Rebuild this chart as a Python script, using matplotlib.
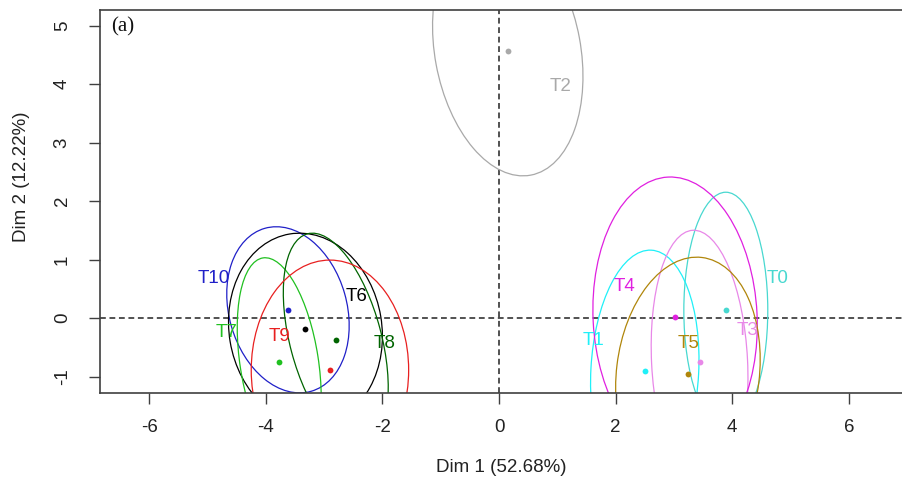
import numpy as np
import matplotlib
matplotlib.use("Agg")
import matplotlib.pyplot as plt
from matplotlib.patches import Ellipse

plt.rcParams['font.family'] = ['Liberation Sans', 'DejaVu Sans']

# ---- data ----
groups = ["T0", "T1", "T10", "T2", "T3", "T4", "T5", "T6", "T7", "T8", "T9"]
colors = ["#48D8D0", "#20F0F8", "#2020C8", "#A9A9A9", "#E888E8", "#E020E0",
          "#B0860B", "#000000", "#20C020", "#006400", "#E82020"]
# group centres (Dim1, Dim2)
center_x = [3.89, 2.50, -3.62, 0.15, 3.44, 3.02, 3.24, -3.32, -3.77, -2.80, -2.90]
center_y = [0.13, -0.91, 0.14, 4.56, -0.75, 0.01, -0.95, -0.19, -0.76, -0.38, -0.89]
# ellipse half-extent along Dim1, half-extent along Dim2, and x-shift of its topmost point
ell_halfwidth = [0.72, 0.93, 1.05, 1.29, 0.83, 1.41, 1.24, 1.32, 0.72, 0.90, 1.35]
ell_halfheight = [2.02, 2.07, 1.42, 2.13, 2.25, 2.40, 1.99, 1.64, 1.79, 1.83, 1.88]
ell_topshift = [0.0, 0.09, -0.20, -0.26, -0.10, -0.08, 0.15, -0.10, -0.24, -0.40, 0.0]
# label positions
label_x = [4.77, 1.62, -4.90, 1.05, 4.27, 2.15, 3.25, -2.45, -4.67, -1.96, -3.77]
label_y = [0.68, -0.38, 0.68, 3.95, -0.22, 0.53, -0.43, 0.36, -0.24, -0.43, -0.32]

xticks = [-6, -4, -2, 0, 2, 4, 6]
yticks = [-1, 0, 1, 2, 3, 4, 5]
xlabel = "Dim 1 (52.68%)"
ylabel = "Dim 2 (12.22%)"
panel = "(a)"

# ---- figure ----
W_PX, H_PX, DPI = 902, 490, 100
fig = plt.figure(figsize=(W_PX / DPI, H_PX / DPI), dpi=DPI)
fig.patch.set_facecolor("white")
ax = fig.add_axes([100 / W_PX, 97 / H_PX, 802 / W_PX, 383 / H_PX])
ax.set_xlim(-6.844, 6.912)
ax.set_ylim(-1.282, 5.265)

for side in ["left", "bottom", "top"]:
    ax.spines[side].set_color("#404040")
    ax.spines[side].set_linewidth(1.2)
ax.spines["right"].set_visible(False)

ax.set_xticks(xticks)
ax.set_yticks(yticks)
ax.set_xticklabels([str(v) for v in xticks])
ax.set_yticklabels([str(v) for v in yticks])
ax.tick_params(axis="both", direction="out", length=8, width=1.0, color="#404040",
               labelsize=13.5, labelcolor="#222222")
ax.tick_params(axis="x", pad=10.5)
ax.tick_params(axis="y", pad=13, labelrotation=90)
for lab in ax.get_yticklabels():
    lab.set_va("center")

ax.axhline(0, color="#222222", lw=1.1, dashes=(3.8, 2.4), zorder=1)
ax.axvline(0, color="#222222", lw=1.1, dashes=(3.8, 2.4), zorder=1)

for i, g in enumerate(groups):
    sxx = ell_halfwidth[i] ** 2
    syy = ell_halfheight[i] ** 2
    sxy = ell_topshift[i] * ell_halfheight[i]
    S = np.array([[sxx, sxy], [sxy, syy]])
    vals, vecs = np.linalg.eigh(S)
    major = vecs[:, 1]
    ang = np.degrees(np.arctan2(major[1], major[0]))
    e = Ellipse((center_x[i], center_y[i]), width=2 * np.sqrt(vals[1]),
                height=2 * np.sqrt(vals[0]), angle=ang, fill=False,
                edgecolor=colors[i], lw=0.9, zorder=2)
    ax.add_patch(e)
    ax.plot(center_x[i], center_y[i], "o", color=colors[i], ms=4.2, mec="none", zorder=3)
    ax.text(label_x[i], label_y[i], g, color=colors[i], fontsize=13.5,
            ha="center", va="center", zorder=4)

ax.text(-6.66, 4.98, panel, family=["Liberation Serif", "DejaVu Serif"], fontsize=15,
        ha="left", va="center", color="#111111")

fig.text(501 / W_PX, 1 - 467 / H_PX, xlabel, ha="center", va="center", fontsize=13.5,
         color="#222222")
fig.text(22 / W_PX, 1 - 177 / H_PX, ylabel, ha="center", va="center", fontsize=13.5,
         rotation=90, color="#222222")

fig.savefig("out.png", dpi=DPI, facecolor="white")
